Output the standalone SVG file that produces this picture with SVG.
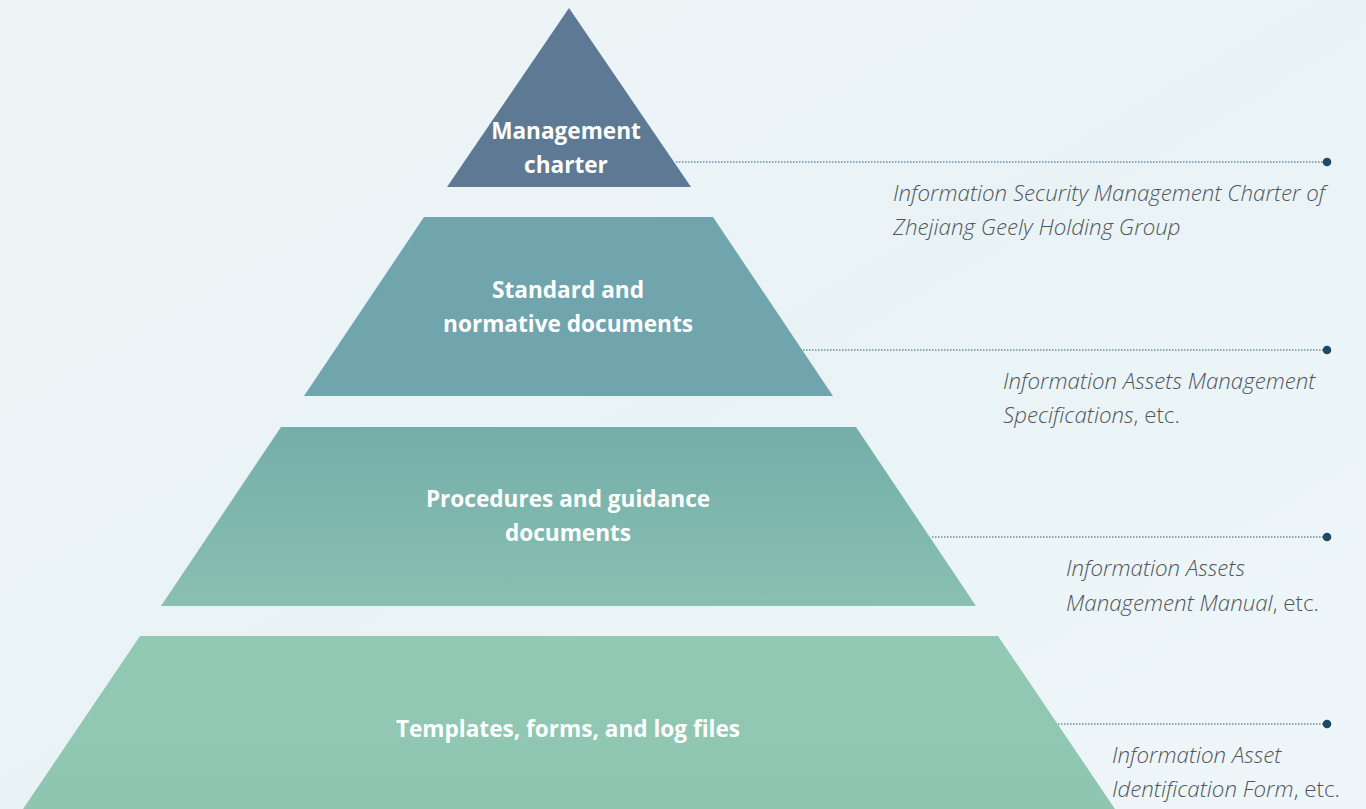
<svg xmlns="http://www.w3.org/2000/svg" width="1366" height="809" viewBox="0 0 1366 809">
  <defs>
    <linearGradient id="bg" x1="0" y1="0" x2="1" y2="1">
      <stop offset="0" stop-color="#eef4f6"/>
      <stop offset="0.5" stop-color="#e9f3f6"/>
      <stop offset="1" stop-color="#eef6f9"/>
    </linearGradient>
    <linearGradient id="g3" x1="0" y1="0" x2="0" y2="1">
      <stop offset="0" stop-color="#74aeaa"/>
      <stop offset="1" stop-color="#89c0b1"/>
    </linearGradient>
    <linearGradient id="g4" x1="0" y1="0" x2="0" y2="1">
      <stop offset="0" stop-color="#92c9b3"/>
      <stop offset="1" stop-color="#8ec6b2"/>
    </linearGradient>
    <style>
      .lbl { font-family: "Open Sans", "Liberation Sans", sans-serif; font-weight: 700; font-size: 22.6px; fill: #ffffff; text-anchor: middle; }
      .desc { font-family: "Open Sans", "Liberation Sans", sans-serif; font-weight: 300; font-style: italic; font-size: 22.3px; fill: #50565b; }
      .etc { font-style: normal; }
      .conn { stroke: #2c5a70; stroke-width: 1.2; stroke-dasharray: 1.5 1.5; fill: none; }
      .dot { fill: #1f4a63; }
    </style>
  </defs>
  <rect x="0" y="0" width="1366" height="809" fill="url(#bg)"/>

  <g id="connectors">
    <line class="conn" x1="676" y1="162" x2="1327" y2="162"/>
    <circle class="dot" cx="1327" cy="162" r="4.3"/>
    <line class="conn" x1="803" y1="350" x2="1327" y2="350"/>
    <circle class="dot" cx="1327" cy="350" r="4.3"/>
    <line class="conn" x1="932" y1="537" x2="1327" y2="537"/>
    <circle class="dot" cx="1327" cy="537" r="4.3"/>
    <line class="conn" x1="1058" y1="724" x2="1327" y2="724"/>
    <circle class="dot" cx="1327" cy="724" r="4.3"/>
  </g>

  <g id="tier1">
    <polygon points="569,8 691,187 447,187" fill="#5e7993"/>
    <text class="lbl" x="566" y="139">Management</text>
    <text class="lbl" x="566" y="173">charter</text>
  </g>
  <g id="tier2">
    <polygon points="424,217 713,217 833,396 304,396" fill="#71a5ae"/>
    <text class="lbl" x="568" y="298">Standard and</text>
    <text class="lbl" x="568" y="332">normative documents</text>
  </g>
  <g id="tier3">
    <polygon points="281,427 856,427 976,606 161,606" fill="url(#g3)"/>
    <text class="lbl" x="568" y="507">Procedures and guidance</text>
    <text class="lbl" x="568" y="541">documents</text>
  </g>
  <g id="tier4">
    <polygon points="140,636 998,636 1115,809 23,809" fill="url(#g4)"/>
    <text class="lbl" x="568" y="737">Templates, forms, and log files</text>
  </g>

  <g id="desc1">
    <text class="desc" x="893" y="201">Information Security Management Charter of</text>
    <text class="desc" x="893" y="235">Zhejiang Geely Holding Group</text>
  </g>
  <g id="desc2">
    <text class="desc" x="1003" y="389">Information Assets Management</text>
    <text class="desc" x="1003" y="423">Specifications<tspan class="etc">, etc.</tspan></text>
  </g>
  <g id="desc3">
    <text class="desc" x="1066" y="576">Information Assets</text>
    <text class="desc" x="1066" y="611">Management Manual<tspan class="etc">, etc.</tspan></text>
  </g>
  <g id="desc4">
    <text class="desc" x="1112" y="763">Information Asset</text>
    <text class="desc" x="1112" y="797">Identification Form<tspan class="etc">, etc.</tspan></text>
  </g>
</svg>
